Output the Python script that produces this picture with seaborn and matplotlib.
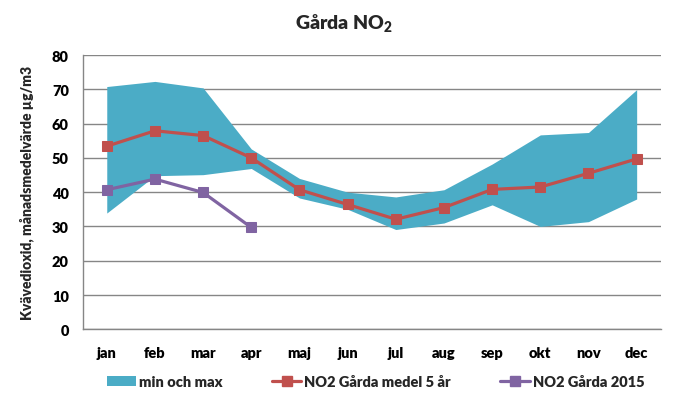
import matplotlib

matplotlib.use("Agg")
import matplotlib.pyplot as plt
import numpy as np
import pandas as pd
import seaborn as sns
from matplotlib.lines import Line2D
from matplotlib.patches import Patch

months = ["jan", "feb", "mar", "apr", "maj", "jun", "jul", "aug", "sep", "okt", "nov", "dec"]
band_max = [70.8, 72.3, 70.4, 52.6, 44.0, 40.0, 38.6, 40.7, 48.2, 56.7, 57.4, 69.9]
band_min = [33.9, 44.8, 45.1, 46.9, 38.3, 35.0, 29.1, 31.0, 36.3, 30.0, 31.4, 38.0]
mean_5yr = [53.4, 57.9, 56.5, 50.0, 40.7, 36.4, 32.1, 35.5, 40.8, 41.5, 45.5, 49.7]
year_2015 = [40.7, 43.8, 39.9, 29.7]
yticks = [0, 10, 20, 30, 40, 50, 60, 70, 80]

BAND = "#4BACC6"
RED = "#C0504D"
PURPLE = "#8064A2"
GRID = "#868686"
W = "heavy"

sns.set_theme(style="white")
plt.rcParams["font.family"] = ["Lato", "DejaVu Sans"]
plt.rcParams["font.weight"] = W
plt.rcParams["mathtext.fontset"] = "custom"
plt.rcParams["mathtext.rm"] = "Lato:heavy"
plt.rcParams["mathtext.bf"] = "Lato:heavy"
plt.rcParams["mathtext.default"] = "regular"

df = pd.DataFrame({
    "x": np.arange(len(months)),
    "month": months,
    "max": band_max,
    "min": band_min,
    "mean": mean_5yr,
})
df_2015 = pd.DataFrame({"x": np.arange(len(year_2015)), "value": year_2015})

fig = plt.figure(figsize=(6.89, 4.10), dpi=100)
ax = fig.add_axes([0.120, 0.1944, 0.839, 0.669])

ax.fill_between(df["x"], df["min"], df["max"], color=BAND, linewidth=0, zorder=2)
sns.lineplot(data=df, x="x", y="mean", ax=ax, color=RED, linewidth=2.3,
             marker="s", markersize=7.5, markeredgecolor=RED, zorder=3)
sns.lineplot(data=df_2015, x="x", y="value", ax=ax, color=PURPLE, linewidth=2.3,
             marker="s", markersize=7.5, markeredgecolor=PURPLE, zorder=4)

ax.set_xlim(-0.5, len(months) - 0.5)
ax.set_ylim(0, 80)
ax.set_yticks(yticks)
ax.set_xticks(df["x"])
ax.set_xticklabels(months)
ax.tick_params(axis="both", length=0, labelsize=10.5, colors="black")
ax.tick_params(axis="x", pad=12)
ax.tick_params(axis="y", pad=10)
for lbl in ax.get_xticklabels() + ax.get_yticklabels():
    lbl.set_fontweight(W)

ax.yaxis.grid(True, color=GRID, linewidth=1.0, zorder=1)
ax.set_axisbelow(True)
for side in ["top", "right"]:
    ax.spines[side].set_visible(False)
for side in ["left", "bottom"]:
    ax.spines[side].set_color(GRID)
    ax.spines[side].set_linewidth(1.0)

ax.set_xlabel("")
ax.set_ylabel("Kvävedioxid, månadsmedelvärde µg/m3", fontsize=10, fontweight=W, labelpad=13)

fig.text(0.5, 0.945, "Gårda NO$_{2}$", ha="center", va="center", fontsize=14, fontweight=W)

handles = [
    Patch(facecolor=BAND, edgecolor="none"),
    Line2D([0], [0], color=RED, linewidth=2.3, marker="s", markersize=7.5),
    Line2D([0], [0], color=PURPLE, linewidth=2.3, marker="s", markersize=7.5),
]
labels = ["min och max", "NO2 Gårda medel 5 år", "NO2 Gårda 2015"]
fig.legend(handles, labels, loc="center", bbox_to_anchor=(0.545, 0.066), ncol=3,
           frameon=False, handlelength=2.0, handletextpad=0.2,
           columnspacing=3.4, prop={"weight": W, "size": 10.5})

fig.savefig("out.png", dpi=100)
